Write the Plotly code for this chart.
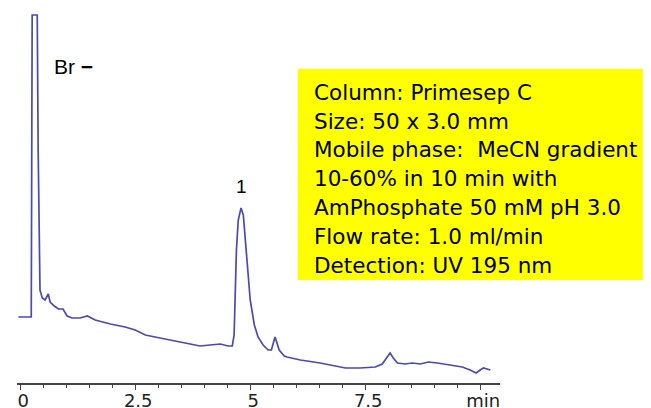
import plotly.graph_objects as go

# Retention time (min) and detector signal (arbitrary units)
time_min = [-0.04, 0.24, 0.26, 0.37, 0.39, 0.43, 0.48, 0.54, 0.61, 0.65, 0.74, 0.83, 0.93,
            1.02, 1.13, 1.30, 1.46, 1.63, 1.96, 2.28, 2.50, 2.72, 3.04, 3.37, 3.70, 3.91,
            4.13, 4.35, 4.52, 4.61, 4.65, 4.70, 4.74, 4.80, 4.85, 4.91, 5.00, 5.09, 5.17,
            5.28, 5.39, 5.46, 5.54, 5.63, 5.74, 5.80, 6.09, 6.52, 6.85, 7.07, 7.39, 7.72,
            7.87, 7.96, 8.04, 8.11, 8.20, 8.37, 8.52, 8.70, 8.87, 9.07, 9.35, 9.61, 9.78,
            9.91, 10.00, 10.07, 10.22]
signal = [66, 66, 368, 368, 233, 93, 85, 83, 89, 81, 77, 74, 74,
          67, 65, 65, 67, 63, 59, 56, 53, 48, 45, 42, 39, 37,
          38, 39, 37, 37, 48, 133, 163, 175, 168, 133, 83, 58, 46,
          38, 33, 33, 46, 33, 27, 26, 23, 20, 17, 15, 15, 16,
          19, 25, 30, 25, 20, 19, 20, 19, 21, 20, 18, 16, 13,
          10, 13, 15, 13]

tick_vals = [0, 2.5, 5, 7.5, 10]
tick_text = ["0", "2.5", "5", "7.5", "min"]

peak_labels = ["Br <b>\u2212</b>", "1"]
peak_label_x = [1.15, 4.8]
peak_label_y = [317, 197]

info_lines = [
    "Column: Primesep C",
    "Size: 50 x 3.0 mm",
    "Mobile phase:  MeCN gradient",
    "10-60% in 10 min with",
    "AmPhosphate 50 mM pH 3.0",
    "Flow rate: 1.0 ml/min",
    "Detection: UV 195 nm",
]

# page body has an 8 px margin; lay the figure out in window pixels
OFF = 8
WIN_W, WIN_H = 651, 408
W, H = WIN_W - OFF, WIN_H - OFF
PL, PR, PT, PB = 17, 500, 13, 383  # plot area in window pixels
ML, MR, MT, MB = PL - OFF, WIN_W - PR, PT - OFF, WIN_H - PB
PW, PH = PR - PL, PB - PT


def px_x(px):
    return (px - PL) / PW


def px_y(py):
    return (PB - py) / PH


fig = go.Figure()
fig.add_trace(go.Scatter(x=time_min, y=signal, mode="lines",
                         line=dict(color="#4a4ab4", width=1.7),
                         hoverinfo="skip", showlegend=False))

for txt, x, y, fs in zip(peak_labels, peak_label_x, peak_label_y, [21, 19]):
    fig.add_annotation(x=x, y=y, xref="x", yref="y", text=txt, showarrow=False,
                       font=dict(family="Liberation Sans, Arial", size=fs, color="black"))

fig.add_shape(type="rect", xref="paper", yref="paper",
              x0=px_x(298), x1=px_x(650), y0=px_y(280), y1=px_y(69),
              fillcolor="#ffff00", line=dict(width=0), layer="below")

line_y = [92, 121, 149.5, 178.5, 207.5, 236, 265]
for txt, py in zip(info_lines, line_y):
    fig.add_annotation(x=px_x(312), y=px_y(py), xref="paper", yref="paper",
                       xanchor="left", yanchor="middle", text=txt, showarrow=False,
                       font=dict(family="DejaVu Sans", size=21.5, color="black"))

fig.update_layout(
    width=W, height=H, autosize=False,
    margin=dict(l=ML, r=MR, t=MT, b=MB, autoexpand=False),
    paper_bgcolor="white", plot_bgcolor="white",
    xaxis=dict(range=[-0.07, 10.43], showgrid=False, zeroline=False, automargin=False,
               showline=True, linecolor="#444", linewidth=1.5,
               ticks="outside", ticklen=5, tickwidth=1.2, tickcolor="#444",
               tickvals=tick_vals, ticktext=tick_text, ticklabelshift=3,
               ticklabelstandoff=-4,
               tickfont=dict(family="DejaVu Sans", size=18, color="#222"),
               minor=dict(dtick=0.5, ticks="outside", ticklen=3, tickcolor="#444", showgrid=False)),
    yaxis=dict(range=[0, 370], visible=False, automargin=False),
)

fig.write_html("out.html")
